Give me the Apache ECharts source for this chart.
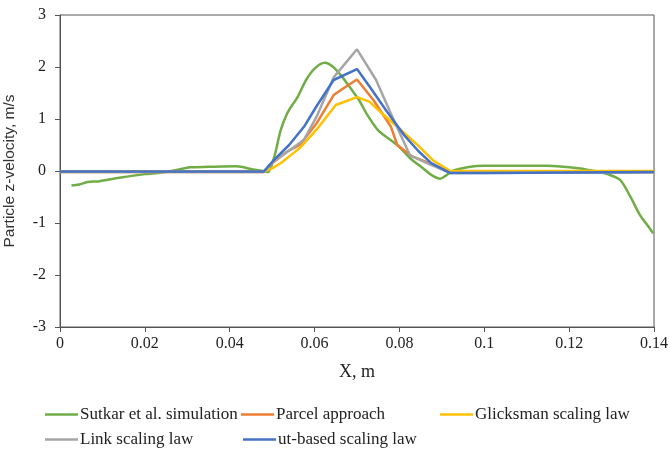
<!DOCTYPE html>
<html><head><meta charset="utf-8">
<script src="https://cdn.jsdelivr.net/npm/echarts@6/dist/echarts.min.js"></script>
<style>html,body{margin:0;padding:0;background:#fff}#c{width:670px;height:454px}</style>
</head><body><div id="c"></div>
<script>
const seriesNames = ['Sutkar et al. simulation','Parcel approach','Glicksman scaling law','Link scaling law','ut-based scaling law'];
const xTickLabels = ['0','0.02','0.04','0.06','0.08','0.1','0.12','0.14'];
const yTickLabels = ['-3','-2','-1','0','1','2','3'];

const sutkar = [[0.0027,-0.28],[0.0045,-0.26],[0.0065,-0.21],[0.009,-0.2],[0.014,-0.13],[0.02,-0.06],[0.024,-0.03],[0.028,0.03],[0.0306,0.07],[0.035,0.08],[0.0416,0.09],[0.0455,0.03],[0.048,0.0],[0.049,-0.02],[0.0505,0.27],[0.052,0.78],[0.0535,1.1],[0.055,1.3],[0.056,1.42],[0.058,1.75],[0.060,1.97],[0.0624,2.08],[0.0644,2.0],[0.0665,1.81],[0.0685,1.59],[0.0705,1.36],[0.0725,1.07],[0.075,0.78],[0.0775,0.62],[0.080,0.46],[0.0826,0.24],[0.0856,0.05],[0.0876,-0.08],[0.0896,-0.15],[0.0911,-0.08],[0.0925,0.0],[0.0967,0.08],[0.0998,0.1],[0.107,0.1],[0.1147,0.1],[0.1226,0.05],[0.1265,-0.01],[0.129,-0.06],[0.132,-0.17],[0.1344,-0.49],[0.1367,-0.85],[0.1385,-1.05],[0.1398,-1.2]];
const parcel = [[0,-0.02],[0.048,-0.02],[0.050,0.15],[0.0535,0.37],[0.0565,0.5],[0.0605,0.92],[0.0645,1.46],[0.067,1.6],[0.070,1.76],[0.074,1.35],[0.078,0.85],[0.0795,0.5],[0.083,0.28],[0.0865,0.17],[0.092,-0.03],[0.14,-0.02]];
const glicksman = [[0,-0.01],[0.048,-0.01],[0.050,0.05],[0.052,0.15],[0.0565,0.44],[0.0605,0.8],[0.065,1.27],[0.070,1.42],[0.073,1.33],[0.076,1.1],[0.0795,0.85],[0.084,0.52],[0.088,0.2],[0.092,0.0],[0.14,0.0]];
const link = [[0,-0.02],[0.048,-0.02],[0.0505,0.2],[0.055,0.45],[0.0575,0.6],[0.0605,1.05],[0.0645,1.8],[0.070,2.34],[0.0745,1.75],[0.078,1.1],[0.0825,0.3],[0.0865,0.15],[0.092,-0.04],[0.14,-0.03]];
const utBased = [[0,-0.01],[0.048,-0.01],[0.0505,0.22],[0.054,0.5],[0.0575,0.85],[0.0605,1.25],[0.0645,1.75],[0.070,1.96],[0.073,1.62],[0.077,1.15],[0.081,0.7],[0.0845,0.38],[0.0875,0.15],[0.092,-0.04],[0.10,-0.04],[0.14,-0.02]];

const colors = ['#70AD47','#ED7D31','#FFC000','#A5A5A5','#4472C4'];
const datas = [sutkar, parcel, glicksman, link, utBased];

const chart = echarts.init(document.getElementById('c'));
const legendPos = [[40,401],[236,401],[435,401],[40,426],[238,426]];
const legends = seriesNames.map((n,i)=>({
  data:[n], left:legendPos[i][0], top:legendPos[i][1], icon:'rect', itemWidth:33, itemHeight:2.5, itemGap:0,
  textStyle:{fontFamily:'Liberation Serif', fontSize:17, color:'#222', padding:[0,0,0,-3]}
}));
chart.setOption({
  animation:false,
  color: colors,
  grid:{left:60,right:16,top:15,bottom:127,show:true,borderColor:'#555',borderWidth:1,outerBoundsMode:'none',containLabel:false},
  legend: legends,
  xAxis:{type:'value',min:0,max:0.14,interval:0.02,
    name:'X, m',nameLocation:'middle',nameGap:36,
    nameTextStyle:{fontFamily:'Liberation Serif',fontSize:18,color:'#222'},
    axisLine:{onZero:false,lineStyle:{color:'#555'}},
    axisTick:{show:true,length:5,lineStyle:{color:'#555'}},
    axisLabel:{fontFamily:'Liberation Serif',fontSize:16,color:'#222',margin:9,
      formatter:(v)=>xTickLabels[Math.round(v/0.02)]},
    splitLine:{show:false}},
  yAxis:{type:'value',min:-3,max:3,interval:1,
    name:'Particle z-velocity, m/s',nameLocation:'middle',nameGap:42,
    nameTextStyle:{fontFamily:'Liberation Sans',fontSize:15.5,color:'#333'},
    axisLine:{show:true,lineStyle:{color:'#555'}},
    axisTick:{show:true,length:5,lineStyle:{color:'#555'}},
    axisLabel:{fontFamily:'Liberation Serif',fontSize:16,color:'#222',margin:14,
      formatter:(v)=>yTickLabels[Math.round(v+3)]},
    splitLine:{show:false}},
  series: seriesNames.map((n,i)=>({
    name:n,type:'line',data:datas[i],showSymbol:false,symbol:'none',
    smooth: i===0 ? 0.3 : false,
    lineStyle:{width:2.5,color:colors[i]},itemStyle:{color:colors[i]}
  }))
});
</script></body></html>
